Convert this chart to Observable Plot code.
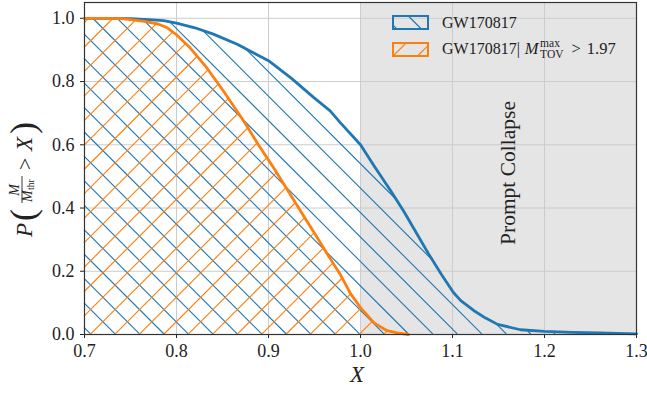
<!DOCTYPE html>
<html><head><meta charset="utf-8">
<script src="https://cdn.jsdelivr.net/npm/d3@7"></script>
<script src="https://cdn.jsdelivr.net/npm/@observablehq/plot@0.6"></script>
<style>html,body{margin:0;padding:0;background:#fff;} #chart svg{display:block}</style>
</head><body><div id="chart"></div>
<script>
// ---- data ----
const blueX = [0.70, 0.72, 0.75, 0.77, 0.786, 0.80, 0.82, 0.84, 0.866, 0.884, 0.90, 0.925, 0.949, 0.967, 0.978, 1.00, 1.015, 1.033, 1.047, 1.06, 1.074, 1.088, 1.101, 1.109, 1.123, 1.136, 1.149, 1.174, 1.20, 1.23, 1.26, 1.30];
const blueP = [1.000, 1.000, 0.999, 0.996, 0.993, 0.985, 0.970, 0.950, 0.918, 0.890, 0.866, 0.810, 0.750, 0.707, 0.670, 0.600, 0.532, 0.454, 0.390, 0.325, 0.255, 0.190, 0.133, 0.107, 0.076, 0.052, 0.032, 0.015, 0.010, 0.007, 0.005, 0.002];
const orangeX = [0.70, 0.72, 0.74, 0.75, 0.765, 0.78, 0.79, 0.80, 0.815, 0.833, 0.851, 0.873, 0.889, 0.905, 0.92, 0.935, 0.95, 0.967, 0.978, 0.989, 1.00, 1.015, 1.029, 1.04, 1.052];
const orangeP = [1.000, 1.000, 0.999, 0.996, 0.990, 0.982, 0.970, 0.948, 0.906, 0.843, 0.770, 0.675, 0.600, 0.530, 0.460, 0.390, 0.320, 0.240, 0.190, 0.130, 0.085, 0.036, 0.012, 0.005, 0.000];
const xTicks = [0.7, 0.8, 0.9, 1.0, 1.1, 1.2, 1.3];
const yTicks = [0.0, 0.2, 0.4, 0.6, 0.8, 1.0];
const collapse = [{x1: 1.0, x2: 1.3}];
const legendLabels = ["GW170817", "GW170817|"];
const collapseLabel = "Prompt Collapse";

const blue = blueX.map((x, i) => ({x, p: blueP[i]}));
const orange = orangeX.map((x, i) => ({x, p: orangeP[i]}));

const C_BLUE = "#1f77b4", C_ORANGE = "#ff7f0e", C_TEXT = "#222";
const FONT = "'Liberation Serif', 'DejaVu Serif', serif";
const W = 647, H = 393;
const ML = 84, MR = 11, MT = 2, MB = 59;

const chart = Plot.plot({
  width: W, height: H,
  marginLeft: ML, marginRight: MR, marginTop: MT, marginBottom: MB,
  style: {fontFamily: FONT, fontSize: "18px", color: C_TEXT, background: "white"},
  x: {domain: [0.7, 1.3], ticks: xTicks, tickFormat: d => d.toFixed(1), tickSize: 4, tickPadding: 6, label: null},
  y: {domain: [0, 1.05], ticks: yTicks, tickFormat: d => d.toFixed(1), tickSize: 4, tickPadding: 6, label: null},
  marks: [
    Plot.rect(collapse, {x1: "x1", x2: "x2", y1: 0, y2: 1.05, fill: "#e5e5e5"}),
    Plot.ruleX(xTicks, {stroke: "#cccccc", strokeWidth: 1}),
    Plot.ruleY(yTicks, {stroke: "#cccccc", strokeWidth: 1}),
    Plot.line(blue, {x: "x", y: "p", stroke: C_BLUE, strokeWidth: 2.8}),
    Plot.line(orange, {x: "x", y: "p", stroke: C_ORANGE, strokeWidth: 2.8}),
    Plot.frame({stroke: "#333", strokeWidth: 1.2})
  ]
});
document.getElementById("chart").appendChild(chart);

const svg = chart.tagName.toLowerCase() === "svg" ? chart : chart.querySelector("svg");
const ns = "http://www.w3.org/2000/svg";
function el(name, attrs, parent) {
  const e = document.createElementNS(ns, name);
  for (const k in attrs) e.setAttribute(k, attrs[k]);
  (parent || svg).appendChild(e);
  return e;
}

// ---- hatched fills under each curve (device-anchored hatch like matplotlib) ----
const sx = chart.scale("x"), sy = chart.scale("y");
const S = 24.45;
const c0 = 23.3; // "\" : y - x = c0 (mod S)
const c1 = 9;    // "/" : x + y = c1 (mod S)
function curvePx(data) { return data.map(d => [sx.apply(d.x), sy.apply(d.p)]); }
function yAt(pts, px) {
  for (let i = 1; i < pts.length; i++) {
    if (px <= pts[i][0]) {
      const [xa, ya] = pts[i - 1], [xb, yb] = pts[i];
      return ya + (yb - ya) * (px - xa) / (xb - xa || 1);
    }
  }
  return pts[pts.length - 1][1];
}
function hatchUnder(data, dir, c) {
  const pts = curvePx(data);
  const bottom = sy.apply(0);
  const xL = pts[0][0], xR = pts[pts.length - 1][0];
  const step = 0.25;
  let d = "";
  const Y = (px, cc) => dir === "back" ? px + cc : cc - px;
  const seg = (a, b, cc) => { d += `M${a.toFixed(2)},${Y(a, cc).toFixed(2)}L${b.toFixed(2)},${Y(b, cc).toFixed(2)}`; };
  for (let k = -60; k <= 60; k++) {
    const cc = c + k * S;
    let start = null, prev = null;
    for (let px = xL; px <= xR + 1e-9; px += step) {
      const py = Y(px, cc);
      const inside = py <= bottom && py >= yAt(pts, px) - 0.5;
      if (inside && start === null) start = px;
      if (!inside && start !== null) { seg(start, prev, cc); start = null; }
      prev = px;
    }
    if (start !== null) seg(start, prev, cc);
  }
  return d;
}
const lineGroups = svg.querySelectorAll('g[aria-label="line"]');
const hatchStyle = {"stroke-width": 1.1, fill: "none"};
const hb = el("path", Object.assign({d: hatchUnder(blue, "back", c0), stroke: C_BLUE}, hatchStyle));
const ho = el("path", Object.assign({d: hatchUnder(orange, "fwd", c1), stroke: C_ORANGE}, hatchStyle));
if (lineGroups[0]) { svg.insertBefore(hb, lineGroups[0]); svg.insertBefore(ho, lineGroups[0]); }

function text(str, attrs, parent) {
  const t = el("text", Object.assign({"font-family": FONT, fill: C_TEXT, "text-anchor": "start"}, attrs), parent);
  t.textContent = str;
  return t;
}

// x label
text("X", {x: 357, y: 382, "font-size": 23, "font-style": "italic", "text-anchor": "middle"});

// y label: P( M / M_thr > X ), rotated
const gy = el("g", {transform: "translate(32,237) rotate(-90)"});
text("P", {x: 0, y: 0, "font-size": 23, "font-style": "italic"}, gy);
text("(", {x: 16, y: 3, "font-size": 36}, gy);
text("M", {x: 47, y: -13, "font-size": 14, "font-style": "italic", "text-anchor": "middle"}, gy);
el("line", {x1: 34, x2: 61, y1: -10, y2: -10, stroke: C_TEXT, "stroke-width": 0.9}, gy);
text("M", {x: 35, y: -0.5, "font-size": 14, "font-style": "italic"}, gy);
text("thr", {x: 47, y: 1.5, "font-size": 9.5}, gy);
text(">", {x: 67, y: 0, "font-size": 22}, gy);
text("X", {x: 86, y: 0, "font-size": 23, "font-style": "italic"}, gy);
text(")", {x: 103, y: 3, "font-size": 36}, gy);

// Prompt Collapse
const gp = el("g", {transform: "translate(515,173) rotate(-90)"});
text(collapseLabel, {x: 0, y: 0, "font-size": 21.5, "text-anchor": "middle"}, gp);

// legend patches (hatched)
function patchHatch(dir, c, x0, y0, x1, y1) {
  let d = "";
  for (let k = -60; k <= 60; k++) {
    const cc = c + k * S;
    let a, b;
    if (dir === "back") {
      a = Math.max(x0, y0 - cc); b = Math.min(x1, y1 - cc);
      if (b > a) d += `M${a},${a + cc}L${b},${b + cc}`;
    } else {
      a = Math.max(x0, cc - y1); b = Math.min(x1, cc - y0);
      if (b > a) d += `M${a},${cc - a}L${b},${cc - b}`;
    }
  }
  return d;
}
function legendPatch(y, color, dir, c) {
  el("path", Object.assign({d: patchHatch(dir, c, 393, y, 428, y + 13), stroke: color}, hatchStyle));
  el("rect", {x: 393, y, width: 35, height: 13, fill: "none", stroke: color, "stroke-width": 2});
}
legendPatch(16, C_BLUE, "back", c0);
legendPatch(43, C_ORANGE, "fwd", c1);
text(legendLabels[0], {x: 442, y: 28, "font-size": 16});
const t2 = text(legendLabels[1], {x: 442, y: 54, "font-size": 16});
let cx = 442 + t2.getComputedTextLength() + 5;
const tm = text("M", {x: cx, y: 54, "font-size": 16.5, "font-style": "italic"});
cx += tm.getComputedTextLength() + 1.5;
const tsup = text("max", {x: cx, y: 47, "font-size": 11.5});
const tsub = text("TOV", {x: cx, y: 58, "font-size": 11.5});
cx += Math.max(tsup.getComputedTextLength(), tsub.getComputedTextLength()) + 8;
const tg = text(">", {x: cx, y: 54, "font-size": 16.5});
cx += tg.getComputedTextLength() + 6;
text("1.97", {x: cx, y: 54, "font-size": 16.5});
</script>
</body></html>
